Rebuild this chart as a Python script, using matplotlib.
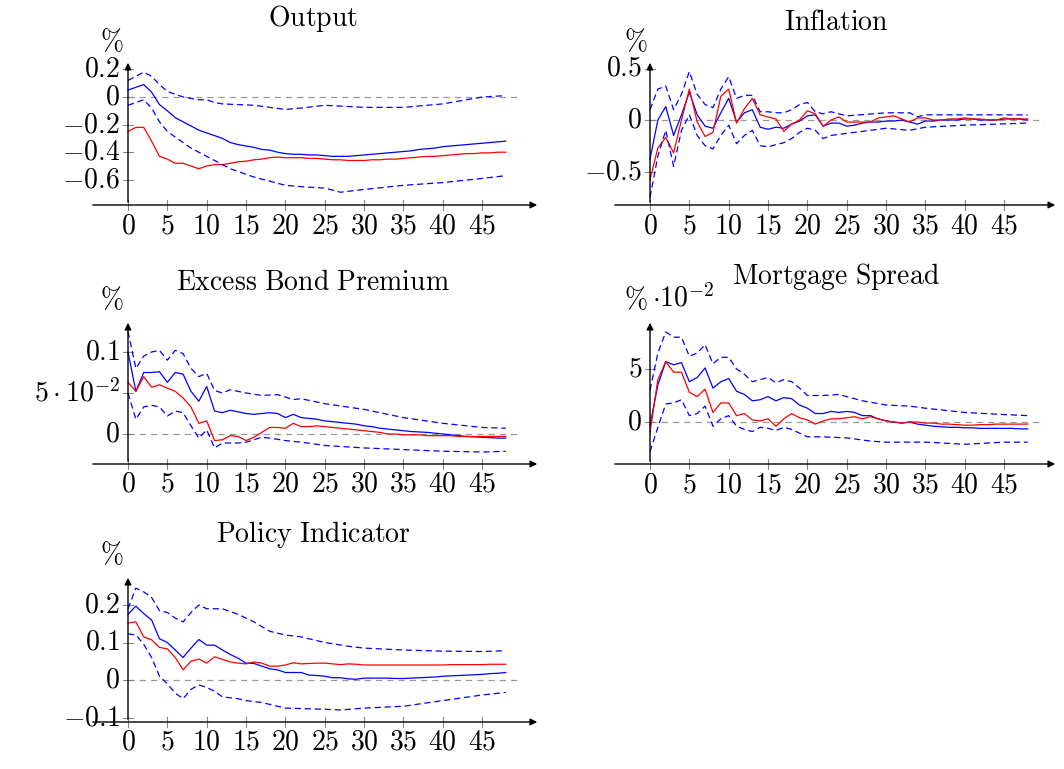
import matplotlib
matplotlib.use("Agg")
import matplotlib.pyplot as plt
import numpy as np

plt.rcParams['mathtext.fontset'] = 'cm'
plt.rcParams['font.family'] = 'serif'
plt.rcParams['font.serif'] = ['DejaVu Serif']

X = list(range(49))
# ---------------- Output ----------------
out_blue = [.05,.07,.09,.035,-.055,-.10,-.15,-.18,-.21,-.24,-.26,-.28,-.30,-.33,-.345,-.355,-.365,-.38,-.385,-.40,-.41,-.415,-.415,-.42,-.42,-.425,-.43,-.43,-.43,-.425,-.42,-.415,-.41,-.405,-.40,-.395,-.39,-.38,-.375,-.37,-.36,-.355,-.35,-.345,-.34,-.335,-.33,-.325,-.32]
out_red = [-.25,-.22,-.22,-.32,-.43,-.45,-.48,-.48,-.50,-.52,-.50,-.49,-.49,-.48,-.47,-.465,-.455,-.45,-.44,-.435,-.44,-.44,-.44,-.445,-.445,-.45,-.455,-.455,-.46,-.46,-.46,-.455,-.455,-.45,-.45,-.445,-.44,-.435,-.43,-.43,-.425,-.42,-.415,-.41,-.41,-.405,-.405,-.40,-.40]
out_up_x = [0,2,3,4,5,6,7,8,9,10,11,12,16,20,22,25,30,35,40,45,48]
out_up = [.12,.18,.15,.09,.04,.02,0.0,-.01,-.02,-.02,-.04,-.05,-.06,-.09,-.08,-.06,-.075,-.075,-.05,0.0,.01]
out_lo_x = [0,1,2,3,4,5,6,7,8,9,10,11,12,13,14,15,16,18,20,22,25,27,30,35,40,45,48]
out_lo = [-.06,-.04,-.02,-.08,-.18,-.25,-.29,-.33,-.37,-.40,-.43,-.46,-.49,-.52,-.54,-.56,-.58,-.61,-.64,-.65,-.66,-.69,-.67,-.64,-.62,-.59,-.57]

# ---------------- Inflation ----------------
inf_blue = [-.38,0.0,.13,-.15,.05,.27,.05,-.06,-.08,.07,.21,-.02,.07,.10,-.07,-.09,-.07,-.08,-.04,-.01,.04,.05,-.06,-.03,-.03,-.06,-.05,-.03,-.02,-.02,-.01,-.01,0.0,-.02,-.04,-.01,-.01,0.0,0.0,0.0,.01,.01,0.0,0.0,0.0,.01,.01,.01,0.0]
inf_red = [-.58,-.27,-.17,-.32,0.0,.30,-.02,-.16,-.12,.23,.30,-.03,.11,.21,.05,.03,.01,-.11,-.04,0.0,.09,.06,-.06,0.0,.03,-.02,-.02,-.02,-.02,.02,.03,.04,.01,-.02,.02,.02,0.0,0.0,.01,.01,.02,.01,.01,0.0,0.0,.02,.01,.01,.01]
inf_up_x = [0,1,2,3,4,5,6,7,8,9,10,11,12,13,14,15,16,17,18,19,20,21,22,23,25,30,33,34,35,40,48]
inf_up = [.1,.30,.33,.10,.25,.47,.25,.15,.12,.30,.42,.21,.24,.24,.08,.08,.07,.07,.10,.15,.17,.08,.06,.08,.04,.07,.07,.03,.05,.05,.05]
inf_lo_x = [0,1,2,3,4,5,6,7,8,9,10,11,12,13,14,15,16,17,18,19,20,21,22,23,25,28,30,33,35,40,48]
inf_lo = [-.75,-.35,-.1,-.45,-.1,.05,-.15,-.25,-.28,-.15,-.05,-.23,-.15,-.10,-.25,-.26,-.24,-.22,-.18,-.12,-.08,-.1,-.18,-.15,-.13,-.10,-.08,-.10,-.07,-.05,-.03]

# ---------------- Excess Bond Premium ----------------
ebp_blue = [.10,.052,.075,.075,.076,.063,.075,.073,.052,.04,.058,.028,.026,.029,.027,.025,.024,.025,.026,.025,.02,.024,.02,.019,.018,.016,.015,.014,.013,.012,.01,.009,.007,.006,.005,.004,.003,.0025,.002,.001,0.0,-.001,-.002,-.003,-.0035,-.004,-.0045,-.005,-.005]
ebp_red = [.063,.052,.07,.057,.06,.056,.052,.044,.033,.013,.016,-.008,-.007,-.002,-.003,-.008,-.004,.002,.008,.008,.007,.013,.009,.009,.01,.009,.008,.007,.006,.005,.004,.003,.002,0.0,0.0,-.001,-.001,-.001,-.002,-.002,-.002,-.002,-.003,-.003,-.003,-.003,-.003,-.003,-.003]
ebp_up_x = [0,1,2,3,4,5,6,7,8,9,10,11,12,13,15,17,19,20,21,22,25,30,35,40,45,48]
ebp_up = [.125,.08,.095,.1,.102,.09,.102,.098,.08,.07,.074,.053,.05,.054,.05,.047,.048,.045,.042,.043,.037,.03,.02,.013,.008,.007]
ebp_lo_x = [0,1,2,3,4,5,6,7,8,9,10,11,12,14,15,17,18,20,22,25,30,35,40,45,48]
ebp_lo = [.05,.018,.033,.035,.033,.022,.028,.026,.01,-.005,.005,-.017,-.011,-.011,-.01,-.004,-.005,-.008,-.01,-.014,-.017,-.019,-.021,-.022,-.021]

# ---------------- Mortgage Spread (x 10^-2) ----------------
ms_blue = [-.3,3.5,5.7,5.4,5.6,3.8,4.2,5.1,3.2,3.8,4.1,2.9,2.6,2.0,2.1,2.4,2.0,2.3,2.2,1.6,1.3,.8,.8,1.0,.9,1.0,.9,.6,.6,.3,.1,0.0,-.1,0.0,-.2,-.3,-.4,-.45,-.5,-.5,-.55,-.55,-.6,-.6,-.6,-.6,-.6,-.65,-.65]
ms_red = [-1.0,4.0,5.7,4.7,4.7,2.8,2.4,3.1,.9,1.8,1.8,.6,.8,.2,.1,.3,-.4,.3,.8,.4,.2,-.2,.1,.3,.3,.4,.5,.3,.5,.3,.1,0.0,-.1,0.0,0.0,-.1,-.1,-.2,-.2,-.25,-.3,-.3,-.25,-.25,-.2,-.2,-.2,-.2,-.2]
ms_up_x = [0,1,2,3,4,5,6,7,8,9,10,11,12,13,14,15,16,17,18,19,20,22,24,25,27,30,33,35,40,45,48]
ms_up = [3,6.5,8.5,8.0,8.0,6.2,6.5,7.3,5.5,6.1,6.1,5.0,4.5,3.8,4.0,4.2,3.7,4.0,3.8,3.2,2.5,2.5,2.6,2.4,2.0,1.6,1.5,1.3,.9,.7,.6]
ms_lo_x = [0,1,2,3,4,5,6,7,8,9,10,11,12,13,14,15,16,17,18,20,22,25,28,30,35,40,45,48]
ms_lo = [-2.8,-.5,1.7,1.8,2.1,.6,.8,1.5,-.4,.3,.6,-.4,-.7,-.9,-.5,-.6,-.8,-.5,-.7,-1.4,-1.4,-1.5,-1.8,-1.9,-1.9,-2.1,-1.9,-1.9]

# ---------------- Policy Indicator ----------------
pol_blue = [.175,.197,.177,.16,.11,.10,.08,.06,.085,.108,.093,.093,.08,.068,.058,.045,.044,.037,.03,.027,.02,.02,.02,.013,.012,.01,.006,.006,.003,.002,.005,.005,.005,.005,.004,.004,.005,.006,.007,.008,.01,.011,.012,.013,.014,.015,.017,.018,.02]
pol_red = [.152,.155,.115,.107,.087,.083,.06,.027,.05,.056,.045,.062,.055,.048,.045,.043,.048,.045,.037,.037,.04,.046,.043,.044,.045,.045,.043,.041,.043,.042,.04,.04,.04,.04,.04,.04,.04,.04,.04,.04,.04,.041,.041,.041,.041,.041,.042,.042,.042]
pol_up_x = [0,1,2,3,4,5,6,7,8,9,10,12,14,16,18,20,22,25,28,30,35,40,45,48]
pol_up = [.19,.245,.235,.22,.185,.18,.165,.155,.18,.2,.19,.19,.175,.155,.13,.12,.115,.1,.09,.085,.08,.077,.076,.078]
pol_lo_x = [0,1,2,3,4,5,6,7,8,9,10,11,12,14,15,17,20,25,27,30,35,40,45,48]
pol_lo = [.123,.12,.095,.06,.01,-.01,-.035,-.05,-.025,-.013,-.02,-.03,-.045,-.05,-.055,-.06,-.075,-.078,-.08,-.075,-.07,-.055,-.04,-.033]

xticks = [0,5,10,15,20,25,30,35,40,45]

W, H = 1064, 769
fig = plt.figure(figsize=(W/100, H/100), dpi=100)
FS = 20

def panel(title, yax_px, xax_px, ytop_px, y0_px, yunit_px, yunit, yticks, ylabels,
          series, title_xy, pct_xy, extra=None, xleft_px=None, xright_px=None):
    xs = 7.87
    left = xleft_px
    right = xright_px
    x0 = (left - yax_px) / xs
    x1 = (right - yax_px) / xs
    top = ytop_px - 2
    bot = xax_px
    yt = (y0_px - top) / yunit_px * yunit
    yb = (y0_px - bot) / yunit_px * yunit
    ax = fig.add_axes([left / W, 1 - bot / H, (right - left) / W, (bot - top) / H])
    ax.set_xlim(x0, x1)
    ax.set_ylim(yb, yt)
    ax.axis('off')
    ax.plot([0, 50], [0, 0], color='#999999', lw=0.9, ls=(0, (5, 4)), zorder=1)
    for xv, yv, c, ls in series:
        ax.plot(xv, yv, color=c, lw=0.9, ls=ls, zorder=3)
    ax.annotate('', xy=(x1, yb), xytext=(x0, yb),
                arrowprops=dict(arrowstyle='-|>', color='black', lw=1.0, mutation_scale=10), annotation_clip=False)
    ax.annotate('', xy=(0, yt), xytext=(0, yb),
                arrowprops=dict(arrowstyle='-|>', color='black', lw=1.0, mutation_scale=10), annotation_clip=False)
    th = 5 / (bot - top) * (yt - yb)
    tw = 5 / xs
    for t in xticks:
        ax.plot([t, t], [yb - th, yb + th], color='#888888', lw=0.8, clip_on=False, zorder=2)
        ax.text(t, yb - th * 1.4, r'$%d$' % t, ha='center', va='top', fontsize=FS)
    for t, lab in zip(yticks, ylabels):
        ax.plot([-tw, tw], [t, t], color='#888888', lw=0.8, zorder=2)
        ax.text(-tw * 1.6, t, lab, ha='right', va='center', fontsize=FS)
    fig.text(title_xy[0] / W, 1 - title_xy[1] / H, title, ha='center', va='center', fontsize=FS)
    fig.text(pct_xy[0] / W, 1 - pct_xy[1] / H, r'$\%$', ha='center', va='center', fontsize=FS)
    if extra:
        fig.text(extra[0] / W, 1 - extra[1] / H, extra[2], ha='left', va='center', fontsize=FS)
    return ax

B, R = 'blue', 'red'
D = (0, (5, 3))
panel(r'$\mathrm{Output}$', 128, 205, 62, 97, 13.8, 0.1, [0.2, 0, -0.2, -0.4, -0.6],
      [r'$0.2$', r'$0$', r'$-0.2$', r'$-0.4$', r'$-0.6$'],
      [(X, out_blue, B, '-'), (X, out_red, R, '-'), (out_up_x, out_up, B, D), (out_lo_x, out_lo, B, D)],
      (313, 18), (112, 42), xleft_px=90, xright_px=540)
panel(r'$\mathrm{Inflation}$', 650, 205, 62, 120, 10.3, 0.1, [0.5, 0, -0.5],
      [r'$0.5$', r'$0$', r'$-0.5$'],
      [(X, inf_blue, B, '-'), (X, inf_red, R, '-'), (inf_up_x, inf_up, B, D), (inf_lo_x, inf_lo, B, D)],
      (836, 22), (636, 42), xleft_px=612, xright_px=1058)
panel(r'$\mathrm{Excess\ Bond\ Premium}$', 128, 464, 322, 434, 82, 0.1, [0.1, 0.05, 0],
      [r'$0.1$', r'$5\cdot 10^{-2}$', r'$0$'],
      [(X, ebp_blue, B, '-'), (X, ebp_red, R, '-'), (ebp_up_x, ebp_up, B, D), (ebp_lo_x, ebp_lo, B, D)],
      (313, 282), (112, 300), xleft_px=90, xright_px=540)
panel(r'$\mathrm{Mortgage\ Spread}$', 650, 464, 322, 422, 53, 5, [5, 0],
      [r'$5$', r'$0$'],
      [(X, ms_blue, B, '-'), (X, ms_red, R, '-'), (ms_up_x, ms_up, B, D), (ms_lo_x, ms_lo, B, D)],
      (836, 276), (636, 300), extra=(652, 298, r'$\cdot 10^{-2}$'), xleft_px=612, xright_px=1058)
panel(r'$\mathrm{Policy\ Indicator}$', 128, 722, 577, 680, 37.5, 0.1, [0.2, 0.1, 0, -0.1],
      [r'$0.2$', r'$0.1$', r'$0$', r'$-0.1$'],
      [(X, pol_blue, B, '-'), (X, pol_red, R, '-'), (pol_up_x, pol_up, B, D), (pol_lo_x, pol_lo, B, D)],
      (313, 535), (112, 555), xleft_px=90, xright_px=540)

fig.savefig('out.png', dpi=100)
